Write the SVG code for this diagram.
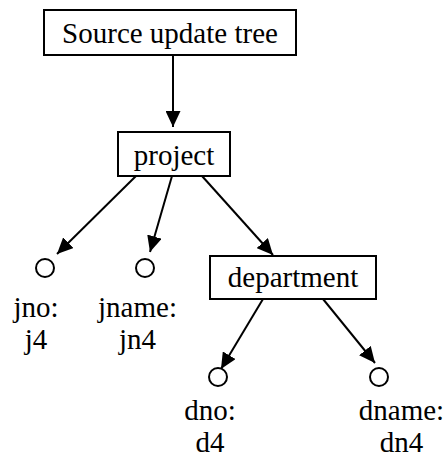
<svg xmlns="http://www.w3.org/2000/svg" width="446" height="457" viewBox="0 0 446 457">
  <style>
    .box { fill: #ffffff; stroke: #000000; stroke-width: 2; }
    .leaf { fill: #ffffff; stroke: #000000; stroke-width: 2; }
    .lbl { font-family: "Liberation Serif", "Times New Roman", serif; font-size: 29px; fill: #000000; text-anchor: middle; }
    .edge { stroke: #000000; stroke-width: 2; fill: none; marker-end: url(#arrow); }
  </style>
  <defs>
    <marker id="arrow" markerUnits="userSpaceOnUse" markerWidth="16" markerHeight="15" refX="16" refY="7.5" orient="auto">
      <path d="M0,0 L16,7.5 L0,15 Z" fill="#000000"/>
    </marker>
  </defs>
  <rect width="446" height="457" fill="#ffffff"/>

  <g id="connectors">
    <line class="edge" x1="173" y1="55" x2="173" y2="127"/>
    <line class="edge" x1="136" y1="176" x2="57" y2="254"/>
    <line class="edge" x1="172" y1="176" x2="150" y2="252"/>
    <line class="edge" x1="202" y1="176" x2="273" y2="255"/>
    <line class="edge" x1="263" y1="299" x2="221" y2="369"/>
    <line class="edge" x1="323" y1="299" x2="375" y2="363"/>
  </g>

  <g id="source-update-tree">
    <rect class="box" x="44" y="10" width="252" height="45"/>
    <text class="lbl" x="170" y="43">Source update tree</text>
  </g>

  <g id="project">
    <rect class="box" x="118" y="132" width="112" height="44"/>
    <text class="lbl" x="174" y="165">project</text>
  </g>

  <g id="jno">
    <circle class="leaf" cx="45" cy="268" r="9"/>
    <text class="lbl" x="36" y="317">jno:</text>
    <text class="lbl" x="36" y="349">j4</text>
  </g>

  <g id="jname">
    <circle class="leaf" cx="145" cy="268" r="9"/>
    <text class="lbl" x="137.5" y="317">jname:</text>
    <text class="lbl" x="137.5" y="349">jn4</text>
  </g>

  <g id="department">
    <rect class="box" x="210" y="256" width="166" height="43"/>
    <text class="lbl" x="293" y="287">department</text>
  </g>

  <g id="dno">
    <circle class="leaf" cx="218" cy="377" r="9"/>
    <text class="lbl" x="210" y="420">dno:</text>
    <text class="lbl" x="210" y="452">d4</text>
  </g>

  <g id="dname">
    <circle class="leaf" cx="379" cy="377" r="9"/>
    <text class="lbl" x="401.5" y="420">dname:</text>
    <text class="lbl" x="401.5" y="452">dn4</text>
  </g>
</svg>
